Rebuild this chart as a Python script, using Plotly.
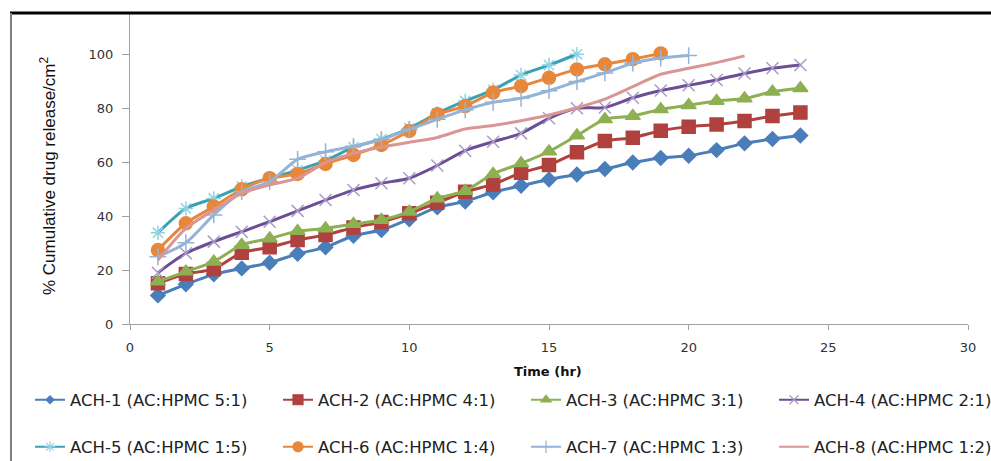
import plotly.graph_objects as go

t24 = list(range(1, 25))
ach1 = [10.6, 14.7, 18.4, 20.6, 22.7, 26.0, 28.4, 32.7, 34.8, 38.8, 43.2, 45.4, 48.8, 51.2, 53.5, 55.4, 57.4, 59.8, 61.5, 62.3, 64.4, 66.9, 68.5, 69.8]
ach2 = [15.1, 18.5, 20.4, 26.4, 28.4, 31.1, 33.0, 35.7, 37.8, 41.0, 44.9, 49.0, 51.7, 56.0, 58.9, 63.6, 67.8, 69.0, 71.6, 73.1, 73.9, 75.2, 77.0, 78.3]
ach3 = [15.7, 19.4, 23.1, 29.3, 31.7, 34.4, 35.4, 37.0, 38.5, 41.6, 46.5, 49.3, 55.6, 59.5, 63.9, 69.8, 75.8, 77.0, 79.5, 81.0, 82.6, 83.5, 86.0, 87.3]
ach4 = [19.0, 26.2, 30.5, 34.2, 37.9, 41.9, 45.9, 49.6, 52.1, 54.0, 58.7, 64.2, 67.5, 70.6, 76.2, 79.9, 80.2, 83.8, 86.5, 88.4, 90.4, 92.8, 94.7, 95.9]
t16 = list(range(1, 17))
ach5 = [33.8, 42.8, 46.5, 50.9, 54.0, 57.0, 60.5, 65.5, 68.5, 72.5, 78.0, 82.6, 86.7, 92.2, 95.9, 99.9]
t19 = list(range(1, 20))
ach6 = [27.4, 37.3, 43.5, 49.9, 54.0, 55.6, 59.3, 62.6, 66.3, 71.5, 77.7, 80.7, 85.7, 88.1, 91.2, 94.3, 96.2, 98.1, 100.2]
t20 = list(range(1, 21))
ach7 = [24.9, 30.1, 40.4, 49.0, 52.7, 61.0, 63.8, 65.8, 68.3, 72.1, 75.8, 79.3, 82.1, 83.6, 86.4, 89.8, 93.0, 96.6, 98.5, 99.4]
t22 = list(range(1, 23))
ach8 = [23.7, 35.4, 42.2, 48.4, 51.5, 54.0, 59.8, 63.2, 65.5, 67.3, 69.1, 72.2, 73.5, 75.3, 77.4, 80.1, 83.3, 87.9, 92.5, 94.7, 96.8, 99.3]

names = ["ACH-1 (AC:HPMC 5:1)", "ACH-2 (AC:HPMC 4:1)", "ACH-3 (AC:HPMC 3:1)", "ACH-4 (AC:HPMC 2:1)",
         "ACH-5 (AC:HPMC 1:5)", "ACH-6 (AC:HPMC 1:4)", "ACH-7 (AC:HPMC 1:3)", "ACH-8 (AC:HPMC 1:2)"]
xs = [t24, t24, t24, t24, t16, t19, t20, t22]
ys = [ach1, ach2, ach3, ach4, ach5, ach6, ach7, ach8]
line_colors = ["#4a7ebb", "#b0413e", "#8db052", "#6b4e95", "#3aa0b4", "#e8873a", "#95b3d7", "#d99694"]
marker_colors = ["#4a7ebb", "#b0413e", "#8db052", "#a99bc9", "#8fd3e3", "#e8873a", "#95b3d7", "#d99694"]
symbols = ["diamond", "square", "triangle-up", "x-thin-open", "asterisk-open", "circle", "cross-thin-open", "circle"]
sizes = [11, 13, 13, 12, 12, 13, 12, 0]
legend_sizes = [6, 10, 9, 9, 9, 10, 9, 0]

PL, PR, PT, PB = 130, 968, 13, 324
W, H = 991, 461
pw, ph = PR - PL, PB - PT

def px2x(px):
    return (px - PL) / pw

def py2y(py):
    return (PB - py) / ph

fig = go.Figure()
for i in range(8):
    fig.add_trace(go.Scatter(
        x=xs[i], y=ys[i], name=names[i], showlegend=False,
        mode="lines+markers" if sizes[i] else "lines",
        line=dict(color=line_colors[i], width=3, shape="spline", smoothing=0.7),
        marker=dict(symbol=symbols[i], size=sizes[i], color=marker_colors[i],
                    line=dict(color=marker_colors[i], width=1.5)),
    ))

legend_layout = {}
for i in range(8):
    key = "legend" if i == 0 else f"legend{i + 1}"
    fig.add_trace(go.Scatter(
        x=[None], y=[None], name=names[i], showlegend=True, legend=key,
        mode="lines+markers" if legend_sizes[i] else "lines",
        line=dict(color=line_colors[i], width=2),
        marker=dict(symbol=symbols[i], size=legend_sizes[i], color=marker_colors[i],
                    line=dict(color=marker_colors[i], width=1.2)),
    ))
    col, row = i % 4, i // 4
    legend_layout[key] = dict(
        x=px2x(30 + 248 * col), y=py2y(400 if row == 0 else 447),
        xanchor="left", yanchor="middle", orientation="v",
        font=dict(family="DejaVu Sans", size=16.5, color="#222222"),
        bgcolor="rgba(0,0,0,0)", itemsizing="trace",
    )

fig.update_layout(
    width=W, height=H,
    margin=dict(l=PL, r=W - PR, t=PT, b=H - PB, pad=0, autoexpand=False),
    paper_bgcolor="white", plot_bgcolor="white",
    xaxis=dict(range=[0, 30], dtick=5, tick0=0, showgrid=False, zeroline=False,
               showline=True, linecolor="#a0a0a0", linewidth=1,
               ticks="outside", ticklen=5, tickcolor="#a0a0a0",
               tickfont=dict(family="DejaVu Sans", size=13, color="#333333"),
               ticklabelstandoff=6),
    yaxis=dict(range=[0, ph / 2.7], tickvals=[0, 20, 40, 60, 80, 100], showgrid=False, zeroline=False,
               showline=True, linecolor="#a0a0a0", linewidth=1,
               ticks="outside", ticklen=7, tickcolor="#a0a0a0",
               tickfont=dict(family="DejaVu Sans", size=13, color="#333333"),
               ticklabelstandoff=6),
    showlegend=True,
    **legend_layout,
)

fig.add_annotation(text="% Cumulative drug release/cm<sup>2</sup>", textangle=-90,
                   xref="paper", yref="paper", x=px2x(48), y=py2y(176),
                   xanchor="center", yanchor="middle", showarrow=False,
                   font=dict(family="Liberation Sans Narrow, Liberation Sans", size=17, color="#111111"))
fig.add_annotation(text="<b>Time (hr)</b>", xref="paper", yref="paper",
                   x=px2x(548), y=py2y(371), xanchor="center", yanchor="middle",
                   showarrow=False, font=dict(family="DejaVu Sans", size=13, color="#111111"))

# outer frame lines (top and left)
fig.add_shape(type="line", xref="paper", yref="paper",
              x0=px2x(10), x1=px2x(991), y0=py2y(13), y1=py2y(13),
              line=dict(color="black", width=3))
fig.add_shape(type="line", xref="paper", yref="paper",
              x0=px2x(11), x1=px2x(11), y0=py2y(13), y1=py2y(461),
              line=dict(color="#808080", width=2))

fig.write_html("out.html")
